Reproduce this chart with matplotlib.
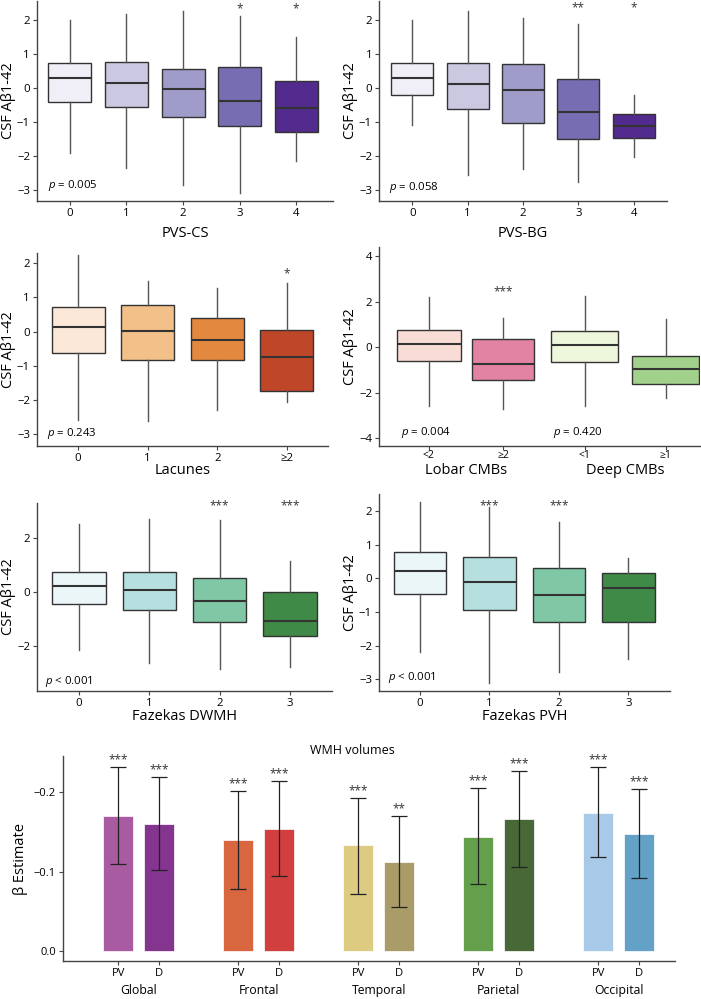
import numpy as np
import matplotlib
matplotlib.use('Agg')
import matplotlib.pyplot as plt
import matplotlib.transforms as mtransforms

plt.rcParams['font.family'] = ['Open Sans', 'DejaVu Sans']
plt.rcParams['mathtext.fontset'] = 'custom'
plt.rcParams['mathtext.it'] = 'Open Sans:italic'
plt.rcParams['mathtext.rm'] = 'Open Sans'

# ---- box statistics (whislo, q1, med, q3, whishi) ----
pvs_cs_cats = ['0', '1', '2', '3', '4']
pvs_cs_whislo = [-1.92, -2.35, -2.85, -3.08, -2.15]
pvs_cs_q1 = [-0.42, -0.55, -0.85, -1.13, -1.28]
pvs_cs_med = [0.30, 0.15, -0.03, -0.38, -0.60]
pvs_cs_q3 = [0.72, 0.77, 0.57, 0.63, 0.22]
pvs_cs_whishi = [2.00, 2.18, 2.25, 2.12, 1.50]
pvs_cs_stars = ['', '', '', '*', '*']

pvs_bg_cats = ['0', '1', '2', '3', '4']
pvs_bg_whislo = [-1.10, -2.57, -2.37, -2.75, -2.02]
pvs_bg_q1 = [-0.20, -0.62, -1.03, -1.50, -1.47]
pvs_bg_med = [0.30, 0.12, -0.05, -0.70, -1.12]
pvs_bg_q3 = [0.72, 0.73, 0.70, 0.25, -0.77]
pvs_bg_whishi = [2.00, 2.25, 2.05, 1.88, -0.20]
pvs_bg_stars = ['', '', '', '**', '*']

lac_cats = ['0', '1', '2', '≥2']
lac_whislo = [-2.60, -2.62, -2.30, -2.07]
lac_q1 = [-0.63, -0.82, -0.83, -1.75]
lac_med = [0.12, 0.03, -0.25, -0.75]
lac_q3 = [0.73, 0.78, 0.40, 0.05]
lac_whishi = [2.25, 1.47, 1.28, 1.43]
lac_stars = ['', '', '', '*']

cmb_cats = ['<2', '≥2', '<1', '≥1']
cmb_whislo = [-2.60, -2.72, -2.60, -2.24]
cmb_q1 = [-0.62, -1.45, -0.67, -1.62]
cmb_med = [0.13, -0.75, 0.10, -0.96]
cmb_q3 = [0.73, 0.35, 0.70, -0.39]
cmb_whishi = [2.20, 1.28, 2.25, 1.22]
cmb_stars = ['', '***', '', '']

dwmh_cats = ['0', '1', '2', '3']
dwmh_whislo = [-2.15, -2.62, -2.82, -2.75]
dwmh_q1 = [-0.45, -0.68, -1.12, -1.60]
dwmh_med = [0.22, 0.08, -0.35, -1.08]
dwmh_q3 = [0.75, 0.75, 0.50, 0.00]
dwmh_whishi = [2.50, 2.70, 2.65, 1.15]
dwmh_stars = ['', '', '***', '***']

pvh_cats = ['0', '1', '2', '3']
pvh_whislo = [-2.18, -3.10, -2.78, -2.40]
pvh_q1 = [-0.47, -0.95, -1.30, -1.30]
pvh_med = [0.20, -0.10, -0.50, -0.30]
pvh_q3 = [0.77, 0.62, 0.30, 0.15]
pvh_whishi = [2.25, 2.10, 1.68, 0.60]
pvh_stars = ['', '***', '***', '']

# ---- WMH volumes bar chart ----
regions = ['Global', 'Frontal', 'Temporal', 'Parietal', 'Occipital']
pv_beta = [-0.170, -0.140, -0.133, -0.144, -0.174]
pv_lo = [-0.232, -0.201, -0.193, -0.205, -0.231]
pv_hi = [-0.109, -0.078, -0.072, -0.084, -0.118]
pv_stars = ['***', '***', '***', '***', '***']
d_beta = [-0.160, -0.154, -0.112, -0.166, -0.147]
d_lo = [-0.219, -0.214, -0.170, -0.227, -0.204]
d_hi = [-0.102, -0.094, -0.055, -0.106, -0.092]
d_stars = ['***', '***', '**', '***', '***']

purples = ['#f0eef6', '#cbc8e2', '#a09cca', '#766db2', '#532a8e']
oranges = ['#fbe8d8', '#f2c088', '#e3893f', '#c0462a']
cmb_colors = ['#f9dcd6', '#e283a3', '#eef6dc', '#a2d18c']
greens = ['#eaf6f8', '#b5e0df', '#80c7a5', '#3f8a46']

EDGE = '#333333'
fig = plt.figure(figsize=(7.01, 9.99), dpi=100)


def style(ax, size=8.2):
    for s in ['top', 'right']:
        ax.spines[s].set_visible(False)
    for s in ['left', 'bottom']:
        ax.spines[s].set_color('#444444')
        ax.spines[s].set_linewidth(1.0)
    ax.tick_params(labelsize=size, length=3, color='#444444', pad=2)


def boxpanel(rect, cats, lo, q1, med, q3, hi, colors, stars, star_y,
             xlim, ylim, yticks, xlabel, ptext, pxy, positions=None, widths=0.76,
             labelpad=4):
    ax = fig.add_axes(rect)
    if positions is None:
        positions = list(range(len(cats)))
    stats = []
    for i in range(len(cats)):
        stats.append(dict(whislo=lo[i], q1=q1[i], med=med[i], q3=q3[i],
                          whishi=hi[i], fliers=[]))
    bp = ax.bxp(stats, positions=positions, widths=widths, patch_artist=True,
                showcaps=False, showfliers=False,
                boxprops=dict(edgecolor=EDGE, linewidth=1.0),
                whiskerprops=dict(color='#555555', linewidth=1.0),
                medianprops=dict(color=EDGE, linewidth=1.5))
    for patch, c in zip(bp['boxes'], colors):
        patch.set_facecolor(c)
    for p, s in zip(positions, stars):
        if s:
            ax.text(p, star_y, s, ha='center', va='center', fontsize=8.5,
                    color='#333333')
    ax.set_xlim(*xlim)
    ax.set_ylim(*ylim)
    ax.set_yticks(yticks)
    ax.set_xticks(positions)
    ax.set_xticklabels(cats)
    if xlabel:
        ax.set_xlabel(xlabel, fontsize=10.5, labelpad=labelpad)
    ax.set_ylabel('CSF Aβ1-42', fontsize=10.5, labelpad=1)
    for t, (px, py) in zip(ptext, pxy):
        ax.text(px, py, t, transform=ax.transAxes, fontsize=8.2,
                ha='left', va='center')
    style(ax)
    return ax


boxpanel([0.0528, 0.7988, 0.4222, 0.2], pvs_cs_cats, pvs_cs_whislo, pvs_cs_q1,
         pvs_cs_med, pvs_cs_q3, pvs_cs_whishi, purples, pvs_cs_stars, 2.32,
         (-0.58, 4.65), (-3.32, 2.55), [-3, -2, -1, 0, 1, 2], 'PVS-CS',
         ['$p$ = 0.005'], [(0.037, 0.08)], labelpad=5)

boxpanel([0.5407, 0.7988, 0.4108, 0.2], pvs_bg_cats, pvs_bg_whislo, pvs_bg_q1,
         pvs_bg_med, pvs_bg_q3, pvs_bg_whishi, purples, pvs_bg_stars, 2.35,
         (-0.6, 4.6), (-3.32, 2.55), [-3, -2, -1, 0, 1, 2], 'PVS-BG',
         ['$p$ = 0.058'], [(0.035, 0.07)], labelpad=5)

boxpanel([0.0528, 0.5536, 0.4151, 0.1931], lac_cats, lac_whislo, lac_q1,
         lac_med, lac_q3, lac_whishi, oranges, lac_stars, 1.70,
         (-0.59, 3.59), (-3.35, 2.3), [-3, -2, -1, 0, 1, 2], 'Lacunes',
         ['$p$ = 0.243'], [(0.034, 0.067)], labelpad=-1)

ax4 = boxpanel([0.5407, 0.5536, 0.4579, 0.1992], cmb_cats, cmb_whislo, cmb_q1,
               cmb_med, cmb_q3, cmb_whishi, cmb_colors, cmb_stars, 2.43,
               (-0.67, 3.64), (-4.35, 4.4), [-4, -2, 0, 2, 4], None,
               ['$p$ = 0.004', '$p$ = 0.420'], [(0.068, 0.067), (0.542, 0.067)],
               positions=[0, 1, 2.09, 3.18], widths=[0.86, 0.83, 0.91, 0.9])
ax4.tick_params(axis='x', pad=0, labelsize=7.5)
tr4 = mtransforms.blended_transform_factory(ax4.transData, ax4.transAxes)
ax4.text(0.5, -0.125, 'Lobar CMBs', transform=tr4, ha='center', va='center',
         fontsize=10.5)
ax4.text(2.635, -0.125, 'Deep CMBs', transform=tr4, ha='center', va='center',
         fontsize=10.5)

boxpanel([0.0528, 0.3083, 0.4208, 0.1882], dwmh_cats, dwmh_whislo, dwmh_q1,
         dwmh_med, dwmh_q3, dwmh_whishi, greens, dwmh_stars, 3.17,
         (-0.6, 3.6), (-3.64, 3.27), [-2, 0, 2], 'Fazekas DWMH',
         ['$p$ < 0.001'], [(0.027, 0.053)], labelpad=0)

boxpanel([0.5407, 0.3083, 0.4151, 0.1972], pvh_cats, pvh_whislo, pvh_q1,
         pvh_med, pvh_q3, pvh_whishi, greens, pvh_stars, 2.15,
         (-0.59, 3.6), (-3.35, 2.5), [-3, -2, -1, 0, 1, 2], 'Fazekas PVH',
         ['$p$ < 0.001'], [(0.031, 0.071)], labelpad=0)

# ---- bottom bar chart ----
pv_colors = ['#a85ba0', '#d8663f', '#dccb80', '#64a04c', '#a9c9e8']
d_colors = ['#84358f', '#d23f3f', '#aa9c68', '#486838', '#63a2c6']

axb = fig.add_axes([0.0899, 0.038, 0.8731, 0.205])
x = np.arange(len(regions))
off = 0.171
bw = 0.25
pv_x = x - off
d_x = x + off
pv_err = [np.array(pv_beta) - np.array(pv_lo), np.array(pv_hi) - np.array(pv_beta)]
d_err = [np.array(d_beta) - np.array(d_lo), np.array(d_hi) - np.array(d_beta)]
axb.bar(pv_x, pv_beta, width=bw, color=pv_colors, edgecolor='white', linewidth=0.5)
axb.bar(d_x, d_beta, width=bw, color=d_colors, edgecolor='white', linewidth=0.5)
axb.errorbar(pv_x, pv_beta, yerr=pv_err, fmt='none', ecolor='#222222',
             elinewidth=0.9, capsize=6, capthick=0.9)
axb.errorbar(d_x, d_beta, yerr=d_err, fmt='none', ecolor='#222222',
             elinewidth=0.9, capsize=6, capthick=0.9)
for xi, yi, s in zip(list(pv_x) + list(d_x), pv_lo + d_lo, pv_stars + d_stars):
    axb.annotate(s, (xi, yi), xytext=(0, 0.5), textcoords='offset points',
                 ha='center', va='bottom', fontsize=8.5, color='#333333',
                 annotation_clip=False)
axb.set_xlim(-0.63, 4.47)
axb.set_ylim(0.0124, -0.245)
axb.set_yticks([0.0, -0.1, -0.2])
axb.set_yticklabels(['0.0', '\u22120.1', '\u22120.2'])
ticks_x = np.ravel(np.column_stack([pv_x, d_x]))
axb.set_xticks(ticks_x)
axb.set_xticklabels(['PV', 'D'] * len(regions))
axb.set_ylabel('β Estimate', fontsize=10.5)
style(axb, size=8)
trb = mtransforms.blended_transform_factory(axb.transData, axb.transAxes)
for xi, r in zip(x, regions):
    axb.text(xi, -0.146, r, transform=trb, ha='center', va='center', fontsize=8.8)
fig.text(0.503, 0.249, 'WMH volumes', ha='center', va='center', fontsize=9)

fig.savefig('out.png', dpi=100)
